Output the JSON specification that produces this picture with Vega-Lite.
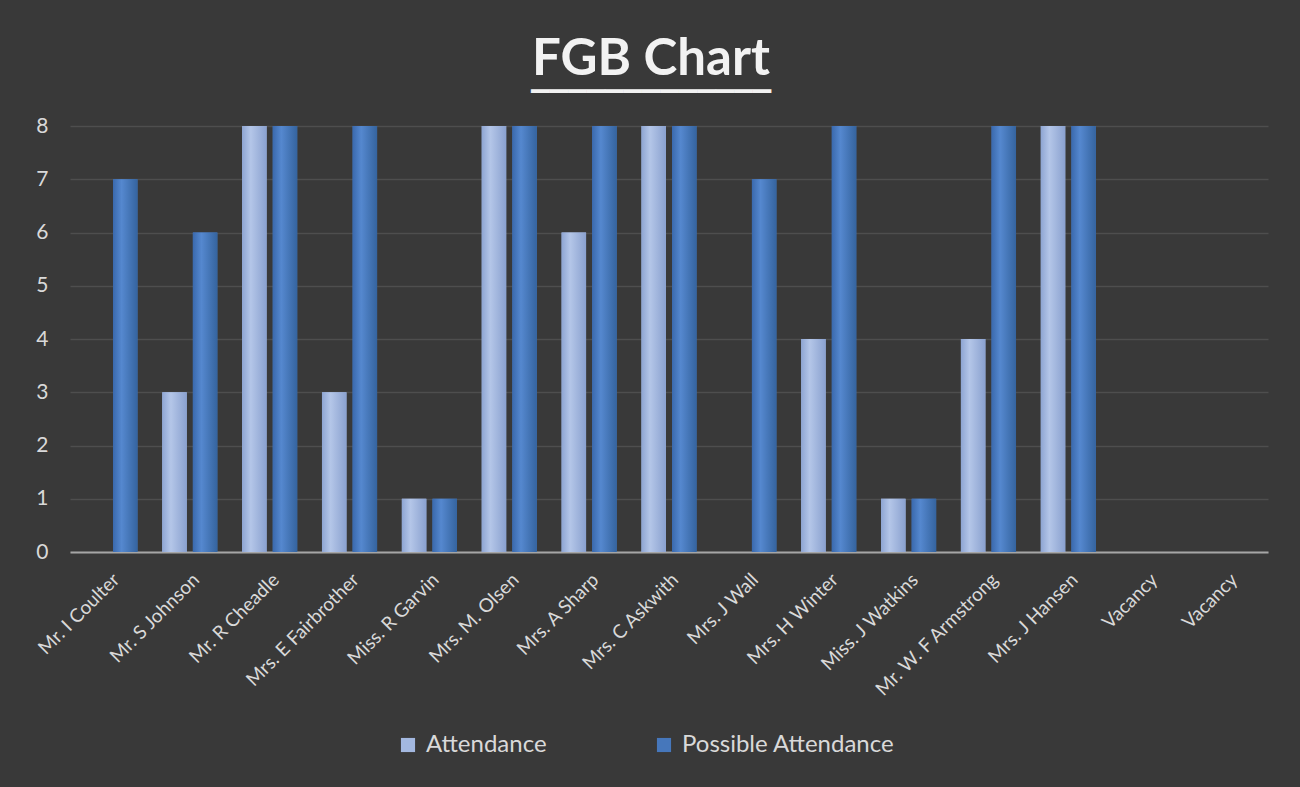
{
  "$schema": "https://vega.github.io/schema/vega-lite/v6.json",
  "width": 1198,
  "height": 426,
  "autosize": {"type": "none"},
  "padding": {"left": 70, "top": 126, "right": 32, "bottom": 235},
  "background": "#393939",
  "config": {
    "font": "Lato",
    "view": {"stroke": null},
    "axis": {"labelFont": "Lato", "labelColor": "#d9d9d9"},
    "legend": {"labelFont": "Lato"}
  },
  "title": {
    "text": "FGB Chart",
    "fontSize": 51,
    "fontWeight": "bold",
    "color": "#f2f2f2",
    "font": "Lato",
    "offset": -3,
    "dx": -18,
    "anchor": "middle",
    "subtitle": "▔▔▔▔▔▔▔▔▔▔▔▔▔",
    "subtitleFont": "DejaVu Sans",
    "subtitleFontSize": 24,
    "subtitleColor": "#f2f2f2",
    "subtitlePadding": 7
  },
  "data": {
    "values": [
      {"name": "Mr. I Coulter", "series": "Attendance", "value": 0},
      {"name": "Mr. I Coulter", "series": "Possible Attendance", "value": 7},
      {"name": "Mr. S Johnson", "series": "Attendance", "value": 3},
      {"name": "Mr. S Johnson", "series": "Possible Attendance", "value": 6},
      {"name": "Mr. R Cheadle", "series": "Attendance", "value": 8},
      {"name": "Mr. R Cheadle", "series": "Possible Attendance", "value": 8},
      {"name": "Mrs. E Fairbrother", "series": "Attendance", "value": 3},
      {"name": "Mrs. E Fairbrother", "series": "Possible Attendance", "value": 8},
      {"name": "Miss. R Garvin", "series": "Attendance", "value": 1},
      {"name": "Miss. R Garvin", "series": "Possible Attendance", "value": 1},
      {"name": "Mrs. M. Olsen", "series": "Attendance", "value": 8},
      {"name": "Mrs. M. Olsen", "series": "Possible Attendance", "value": 8},
      {"name": "Mrs. A Sharp", "series": "Attendance", "value": 6},
      {"name": "Mrs. A Sharp", "series": "Possible Attendance", "value": 8},
      {"name": "Mrs. C Askwith", "series": "Attendance", "value": 8},
      {"name": "Mrs. C Askwith", "series": "Possible Attendance", "value": 8},
      {"name": "Mrs. J Wall", "series": "Attendance", "value": 0},
      {"name": "Mrs. J Wall", "series": "Possible Attendance", "value": 7},
      {"name": "Mrs. H Winter", "series": "Attendance", "value": 4},
      {"name": "Mrs. H Winter", "series": "Possible Attendance", "value": 8},
      {"name": "Miss. J Watkins", "series": "Attendance", "value": 1},
      {"name": "Miss. J Watkins", "series": "Possible Attendance", "value": 1},
      {"name": "Mr. W. F Armstrong", "series": "Attendance", "value": 4},
      {"name": "Mr. W. F Armstrong", "series": "Possible Attendance", "value": 8},
      {"name": "Mrs. J Hansen", "series": "Attendance", "value": 8},
      {"name": "Mrs. J Hansen", "series": "Possible Attendance", "value": 8},
      {"name": "Vacancy", "series": "Attendance", "value": 0},
      {"name": "Vacancy", "series": "Possible Attendance", "value": 0},
      {"name": "Vacancy ", "series": "Attendance", "value": 0},
      {"name": "Vacancy ", "series": "Possible Attendance", "value": 0}
    ]
  },
  "encoding": {
    "x": {
      "field": "name",
      "type": "nominal",
      "sort": null,
      "scale": {
        "domain": ["Mr. I Coulter", "Mr. S Johnson", "Mr. R Cheadle", "Mrs. E Fairbrother", "Miss. R Garvin", "Mrs. M. Olsen", "Mrs. A Sharp", "Mrs. C Askwith", "Mrs. J Wall", "Mrs. H Winter", "Miss. J Watkins", "Mr. W. F Armstrong", "Mrs. J Hansen", "Vacancy", "Vacancy "],
        "paddingInner": 0.31,
        "paddingOuter": 0.155
      },
      "axis": {
        "title": null,
        "labelAngle": -45,
        "labelFontSize": 19,
        "labelPadding": 18,
        "labelLimit": 400,
        "ticks": false,
        "domain": true,
        "domainColor": "#a6a6a6",
        "domainWidth": 2,
        "grid": false
      }
    },
    "xOffset": {
      "field": "series",
      "type": "nominal",
      "sort": ["Attendance", "Possible Attendance"],
      "scale": {"paddingInner": 0.2}
    },
    "y": {
      "field": "value",
      "type": "quantitative",
      "scale": {"domain": [0, 8], "nice": false},
      "axis": {
        "title": null,
        "values": [0, 1, 2, 3, 4, 5, 6, 7, 8],
        "labelFontSize": 21,
        "labelPadding": 22,
        "ticks": false,
        "domain": false,
        "grid": true,
        "gridColor": "#4e4e4e",
        "gridWidth": 1.5
      }
    }
  },
  "layer": [
    {
      "mark": {"type": "bar"},
      "encoding": {
        "color": {
          "field": "series",
          "type": "nominal",
          "sort": ["Attendance", "Possible Attendance"],
          "scale": {"range": ["#a3b8e0", "#4677bb"]},
          "legend": {
            "title": null,
            "orient": "none",
            "legendX": 326,
            "legendY": 607,
            "direction": "horizontal",
            "labelFontSize": 24,
            "labelColor": "#d9d9d9",
            "labelLimit": 400,
            "symbolType": "square",
            "symbolSize": 200,
            "symbolStrokeWidth": 0,
            "labelOffset": 6,
            "columnPadding": 105
          }
        }
      }
    },
    {
      "transform": [{"filter": "datum.series === 'Attendance'"}],
      "mark": {
        "type": "bar",
        "color": {
          "gradient": "linear",
          "x1": 0, "x2": 1, "y1": 0, "y2": 0,
          "stops": [
            {"offset": 0, "color": "#8ea5d2"},
            {"offset": 0.35, "color": "#b4c6e8"},
            {"offset": 1, "color": "#8aa1cf"}
          ]
        }
      }
    },
    {
      "transform": [{"filter": "datum.series === 'Possible Attendance'"}],
      "mark": {
        "type": "bar",
        "color": {
          "gradient": "linear",
          "x1": 0, "x2": 1, "y1": 0, "y2": 0,
          "stops": [
            {"offset": 0, "color": "#3a69ad"},
            {"offset": 0.35, "color": "#5588cf"},
            {"offset": 1, "color": "#35649f"}
          ]
        }
      }
    }
  ]
}
